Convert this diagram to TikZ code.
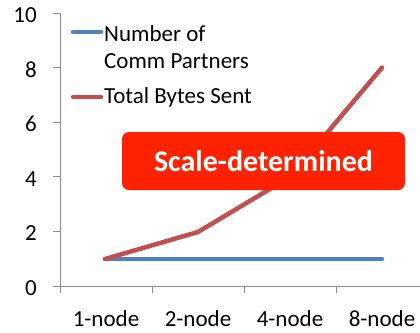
\documentclass[tikz,border=0pt]{standalone}
\usepackage{fontspec}
\setmainfont{Carlito}
\definecolor{axisgray}{HTML}{8C8C8C}
\definecolor{serblue}{HTML}{4F81BD}
\definecolor{serred}{HTML}{C0504D}
\definecolor{boxred}{HTML}{FF2200}
\begin{document}
\begin{tikzpicture}[x=1pt,y=-1pt,
  axisline/.style={draw=axisgray,line width=1pt},
  ticklab/.style={anchor=east,inner sep=0pt,font=\fontsize{23}{27}\selectfont},
  catlab/.style={anchor=base,inner sep=0pt,font=\fontsize{23}{27}\selectfont},
  leglab/.style={anchor=base west,inner sep=0pt,font=\fontsize{23}{27}\selectfont},
  series/.style={line width=4.5pt,line cap=round,line join=round},
  callout/.style={fill=boxred,rounded corners=7pt,text=white,font=\bfseries\fontsize{30}{34}\selectfont,minimum width=283pt,minimum height=58pt,inner sep=0pt}]
\useasboundingbox (0,0) rectangle (420,332);
% axes
\coordinate (o) at (60,286);
\coordinate (ytop) at (60,13);
\coordinate (xend) at (420,286);
\draw[axisline] (ytop) -- (60,293);
\draw[axisline] (o) -- (xend);
\foreach \v/\yy in {0/286,2/231.4,4/176.8,6/122.2,8/67.6,10/13}{
  \draw[axisline] (53,\yy) -- (60,\yy);
  \node[ticklab] (yl\v) at (37,\yy+2) {\v};
}
\foreach \xx in {152,244,336}{
  \draw[axisline] (\xx,286) -- (\xx,293);
}
\node[catlab] (c1) at (106,326) {1-node};
\node[catlab] (c2) at (198,326) {2-node};
\node[catlab] (c3) at (290,326) {4-node};
\node[catlab] (c4) at (382,326) {8-node};
% data points
\coordinate (b1) at (105,259);
\coordinate (b4) at (382,259);
\coordinate (r1) at (105,259);
\coordinate (r2) at (198,232);
\coordinate (r3) at (290,177);
\coordinate (r4) at (382,67.6);
\draw[series,serblue] (b1) -- (b4);
\draw[series,serred] (r1) -- (r2) -- (r3) -- (r4);
% legend
\coordinate (lb1) at (73,32);
\coordinate (lb2) at (101,32);
\coordinate (lr1) at (73,97);
\coordinate (lr2) at (101,97);
\draw[serblue,line width=4.5pt,line cap=round] (lb1) -- (lb2);
\draw[serred,line width=4.5pt,line cap=round] (lr1) -- (lr2);
\node[leglab] (l1) at (104,41) {Number of};
\node[leglab] (l2) at (104,68) {Comm Partners};
\node[leglab] (l3) at (104,103) {Total Bytes Sent};
% callout
\node[callout] (sd) at (263.5,161) {Scale-determined};
\end{tikzpicture}
\end{document}
